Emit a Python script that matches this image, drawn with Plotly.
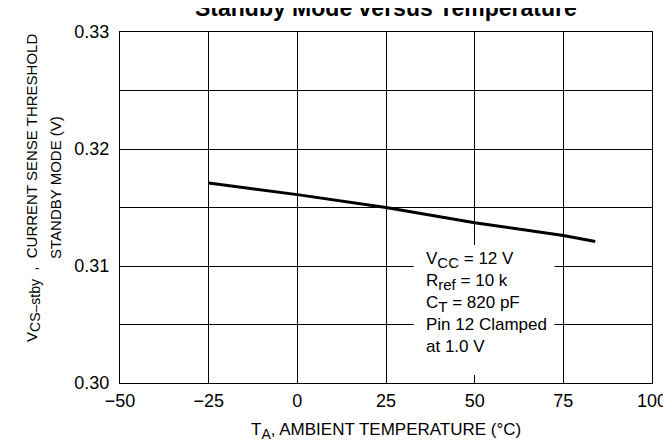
import plotly.graph_objects as go

temps = [-25, 0, 25, 50, 75, 84]
vcs = [0.3171, 0.3161, 0.3150, 0.3137, 0.3126, 0.3121]

x_ticks = [-50, -25, 0, 25, 50, 75, 100]
x_tick_labels = ["\u221250", "\u221225", "0", "25", "50", "75", "100"]
y_ticks = [0.30, 0.305, 0.31, 0.315, 0.32, 0.325, 0.33]
y_tick_labels = ["0.30", "", "0.31", "", "0.32", "", "0.33"]

title_text = "<b>Standby Mode versus Temperature</b>"
x_title = "T<sub><span style='font-size:14px'>A</span></sub>, AMBIENT TEMPERATURE (°C)"
y_title_1 = ("V<sub><span style='font-size:14px'>CS\u2013stby</span></sub>\u00a0\u00a0,\u00a0\u00a0"
             "CURRENT SENSE THRESHOLD")
y_title_2 = "STANDBY MODE (V)"
sub = "<sub><span style='font-size:15px'>{}</span></sub>"
note_text = ("V" + sub.format("CC") + " = 12 V<br>R" + sub.format("ref") + " = 10 k<br>C"
             + sub.format("T") + " = 820 pF<br>Pin 12 Clamped<br>at 1.0 V")

FONT = "Liberation Sans, Arial, sans-serif"

fig = go.Figure()
fig.add_trace(go.Scatter(x=temps, y=vcs, mode="lines",
                         line=dict(color="black", width=3), showlegend=False))

fig.update_xaxes(range=[-50, 100], tickvals=x_ticks, ticktext=x_tick_labels,
                 showgrid=True, gridcolor="black", gridwidth=1,
                 showline=True, linecolor="black", linewidth=1, mirror=True,
                 zeroline=False, ticks="", ticklabelstandoff=1,
                 tickfont=dict(size=18, color="black"))
fig.update_yaxes(range=[0.30, 0.33], tickvals=y_ticks, ticktext=y_tick_labels,
                 showgrid=True, gridcolor="black", gridwidth=1,
                 showline=True, linecolor="black", linewidth=1, mirror=True,
                 zeroline=False, ticks="", ticklabelstandoff=6,
                 tickfont=dict(size=18, color="black"))

# white note box hiding the grid
fig.add_shape(type="rect", xref="x", yref="y", x0=32.8, x1=72.5, y0=0.30068, y1=0.3118,
              fillcolor="white", line=dict(width=0), layer="above")

fig.add_annotation(x=36.1, y=0.31155, xref="x", yref="y", xanchor="left", yanchor="top",
                   align="left", showarrow=False, text=note_text, borderpad=0,
                   font=dict(size=17, color="black", family=FONT))

fig.add_annotation(x=0.5, y=1.068, xref="paper", yref="paper", xanchor="center", yanchor="middle",
                   showarrow=False, text=title_text,
                   font=dict(size=23, color="black", family=FONT))

fig.add_annotation(x=0.5, y=-0.136, xref="paper", yref="paper", xanchor="center", yanchor="middle",
                   showarrow=False, text=x_title,
                   font=dict(size=17, color="black", family=FONT))

fig.add_annotation(x=0, y=1.0, xref="paper", yref="paper", xanchor="center", yanchor="top",
                   xshift=-87, textangle=-90, showarrow=False, text=y_title_1,
                   font=dict(size=15, color="black", family=FONT))
fig.add_annotation(x=0, y=(375 - 180) / 351, xref="paper", yref="paper", xanchor="center",
                   yanchor="middle", xshift=-65, textangle=-90, showarrow=False, text=y_title_2,
                   font=dict(size=15, color="black", family=FONT))

fig.update_layout(width=671, height=440, margin=dict(l=112, r=19, t=24, b=65),
                  plot_bgcolor="white", paper_bgcolor="white",
                  font=dict(family=FONT, color="black"))

fig.write_html("out.html")
